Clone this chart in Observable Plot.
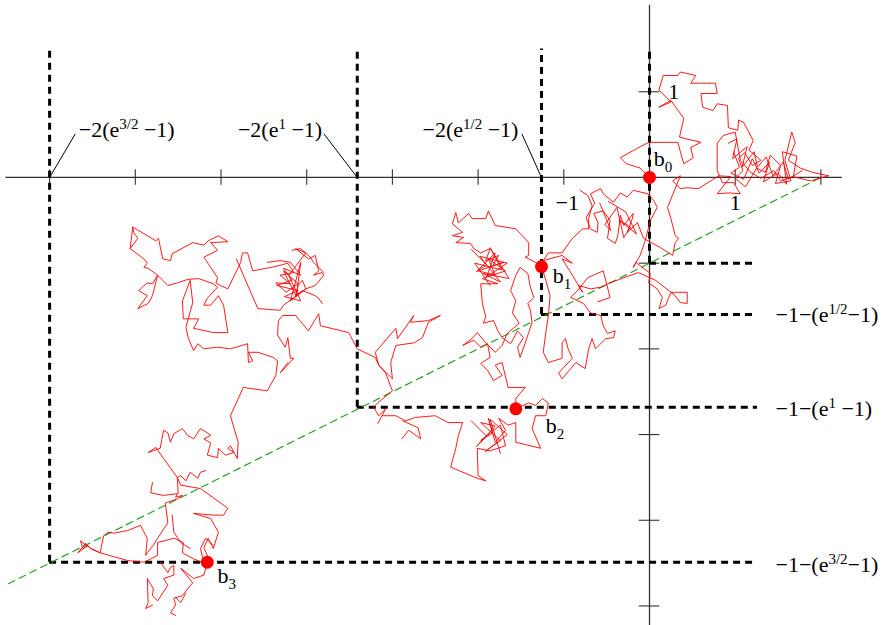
<!DOCTYPE html>
<html><head><meta charset="utf-8">
<script src="https://cdn.jsdelivr.net/npm/d3@7"></script>
<script src="https://cdn.jsdelivr.net/npm/@observablehq/plot@0.6"></script>
<style>html,body{margin:0;padding:0;background:#fff;} #chart svg{display:block;}</style>
</head><body><div id="chart"></div>
<script>
// ---------- data (plot units) ----------
const xDomain = [-7.573, 2.777];
const yDomain = [-5.228, 2.065];
const xAxisExtent = [-7.51, 2.25];
const yAxisExtent = [-5.23, 2.01];
const xTicks = [-7, -6, -5, -4, -3, -2, -1, 1, 2];
const yTicks = [1, -1, -2, -3, -4, -5];
const xTickHalf = 0.09, yTickHalf = 0.12;

// corners of the dashed staircase (t = 0, 1/2, 1, 3/2)
const cornerX = [0, -1.26, -3.41, -7.0];
const cornerY = [-1, -1.60, -2.68, -4.49];
const dashTop = 1.5, dashRight = 1.26;

// green line y = -1 + x/2
const greenX = [-7.48, 2];
const greenY = [-4.74, 0];

// marked points b0..b3
const bX = [0, -1.26, -1.56, -5.16];
const bY = [0, -1.04, -2.70, -4.49];
const bText = ["b_{0}", "b_{1}", "b_{2}", "b_{3}"];
const bLabelX = [0.05, -1.13, -1.21, -5.04];
const bLabelY = [0.13, -1.23, -2.98, -4.73];

// labels
const topText = ["−2(e^{3/2} −1)", "−2(e^{1} −1)", "−2(e^{1/2} −1)"];
const topLabelX = [-6.66, -3.82, -1.53];
const topAnchor = ["start", "end", "end"];
const topLabelY = 0.47;
const leaderFromX = [-7.0, -3.41, -1.26];
const leaderToX = [-6.70, -3.80, -1.49];
const leaderToY = 0.51;
const rightText = ["−1−(e^{1/2}−1)", "−1−(e^{1} −1)", "−1−(e^{3/2}−1)"];
const rightLabelX = 1.47;
const rightLabelY = [-1.69, -2.78, -4.60];
const tickText = ["1", "−1", "1"];
const tickLabelX = [0.22, -0.96, 1.0];
const tickLabelY = [0.91, -0.385, -0.385];
const tickAnchor = ["start", "middle", "middle"];

// Brownian path
const walkA = [[0,0],[-0.11,0.11],[-0.27,0.16],[-0.34,0.23],[-0.18,0.32],[-0.01,0.41],[0.33,0.41],[0.40,0.16],[0.51,0.23],[0.48,0.35],[0.60,0.41],[0.35,0.47],[0.40,0.69],[0.25,0.90],[0.11,0.82],[0.25,0.88],[0.11,1.02],[0.16,1.19],[0.33,1.19],[0.36,1.23],[0.54,1.19],[0.48,1.10],[0.77,1.10],[0.79,0.98],[0.60,0.98],[0.62,0.82],[0.74,0.78],[0.79,0.86],[0.91,0.84],[0.92,0.58],[1.03,0.55],[1.04,0.67],[1.10,0.64],[1.21,0.43],[1.16,0.32],[1.30,0.20],[1.20,0.14],[1.11,0.29],[1.04,0.22],[1.09,0.08],[1.00,-0.01],[1.12,-0.11],[1.25,0.11],[1.35,0.06],[1.41,0.26],[1.53,0.14],[1.47,-0.07],[1.65,-0.04],[1.58,0.20],[1.66,0.53],[1.70,0.41],[1.62,0.20],[1.76,0.11],[1.90,0.06],[2.09,0.02],[1.88,-0.04],[1.67,0.01],[1.53,-0.04],[1.45,0.08],[1.30,-0.01],[1.18,0.06],[1.06,0.20],[1.00,0.53],[0.86,0.49],[0.79,0.40],[0.79,0.08],[0.85,-0.06],[0.98,-0.06],[1.06,-0.19],[0.92,-0.18],[0.79,-0.19],[0.95,0.01],[0.81,0.02],[0.57,-0.13],[0.44,-0.12],[0.36,-0.13],[0.27,-0.04],[0.36,0.02],[0.21,-0.35],[0.25,-0.48],[0.30,-0.68],[0.34,-0.71],[0.30,-0.76],[0.27,-0.91],[0.13,-0.82],[-0.07,-0.71],[-0.14,-0.53]];
const walkA2 = [[0.98,0.30],[1.05,0.12],[0.95,0.05],[1.10,-0.02],[1.20,0.22],[1.28,0.05],[1.40,0.18],[1.33,-0.05],[1.50,0.05],[1.60,-0.08],[1.55,0.30],[1.72,0.25],[1.68,0.02]];
const walkA3 = [[0.92,0.40],[1.02,0.45],[0.97,0.22],[1.14,0.36],[1.08,0.12],[1.22,0.30],[1.26,0.12],[1.36,0.24],[1.44,0.02],[1.56,0.18],[1.62,-0.02],[1.78,0.08]];
const walkB = [[-0.14,-0.53],[-0.26,-0.64],[-0.20,-0.48],[-0.19,-0.42],[-0.30,-0.56],[-0.34,-0.44],[-0.37,-0.68],[-0.40,-0.77],[-0.49,-0.71],[-0.46,-0.50],[-0.54,-0.39],[-0.65,-0.42],[-0.60,-0.53],[-0.61,-0.64],[-0.69,-0.60],[-0.74,-0.47],[-0.64,-0.30],[-0.69,-0.19],[-0.57,-0.13],[-0.54,-0.19],[-0.42,-0.29],[-0.34,-0.18],[-0.26,-0.23],[-0.19,-0.15],[-0.02,-0.19],[0.05,-0.27],[0.09,-0.35],[0.01,-0.50],[-0.05,-0.74],[-0.11,-0.91],[-0.19,-1.05],[-0.16,-0.99],[-0.11,-1.03],[0.01,-1.12],[-0.01,-1.23],[0.09,-1.30],[0.15,-1.40],[0.11,-1.53],[0.19,-1.49],[0.25,-1.34],[0.30,-1.38],[0.36,-1.46],[0.44,-1.47],[0.44,-1.34],[0.25,-1.34],[0.07,-1.20],[-0.13,-1.11],[-0.30,-1.17],[-0.46,-1.23],[-0.57,-1.28],[-0.69,-1.30],[-0.83,-1.26],[-0.78,-1.34],[-0.90,-1.14],[-1.02,-0.95],[-0.90,-1.00],[-1.02,-0.91],[-1.24,-0.97],[-1.18,-0.88],[-1.02,-0.88],[-0.90,-0.71],[-0.78,-0.60],[-0.71,-0.60],[-0.71,-0.48],[-0.67,-0.33],[-0.72,-0.21],[-0.81,-0.15]];
const walkB2 = [[-0.58,-0.30],[-0.45,-0.62],[-0.52,-0.55],[-0.38,-0.35],[-0.30,-0.70],[-0.22,-0.58],[-0.35,-0.50],[-0.15,-0.66],[-0.28,-0.40],[-0.48,-0.28]];
const walkC = [[-1.26,-1.04],[-1.21,-1.20],[-1.16,-1.38],[-1.18,-1.61],[-1.21,-1.81],[-1.24,-2.04],[-1.18,-2.16],[-1.02,-2.11],[-1.02,-1.93],[-0.98,-1.88],[-0.95,-2.00],[-0.90,-2.11],[-1.06,-2.28],[-1.02,-2.35],[-0.86,-2.16],[-0.75,-2.23],[-0.71,-2.00],[-0.67,-1.88],[-0.63,-2.00],[-0.51,-1.88],[-0.42,-1.87],[-0.40,-1.79],[-0.49,-1.82],[-0.54,-1.73],[-0.57,-1.61],[-0.69,-1.58],[-0.77,-1.47],[-0.92,-1.40],[-0.84,-1.32],[-0.72,-1.17],[-0.54,-1.09],[-0.46,-1.40],[-0.60,-1.45]];
const walkD = [[-1.26,-1.04],[-1.33,-0.99],[-1.45,-0.93],[-1.41,-0.91],[-1.41,-0.76],[-1.56,-0.60],[-1.80,-0.56],[-1.88,-0.39],[-1.91,-0.48],[-2.07,-0.48],[-2.11,-0.42],[-2.23,-0.53],[-2.26,-0.41],[-2.30,-0.54],[-2.23,-0.60],[-2.18,-0.64],[-2.30,-0.68],[-2.17,-0.70],[-2.26,-0.76],[-2.09,-0.77],[-2.05,-0.83],[-1.97,-0.88],[-1.86,-0.83],[-1.91,-0.97],[-1.76,-0.91],[-1.83,-1.03],[-1.70,-0.99],[-2.00,-1.09],[-1.80,-1.14],[-1.88,-0.95],[-1.68,-1.09],[-1.95,-1.18],[-1.77,-1.24],[-1.97,-1.24],[-1.95,-1.47],[-1.91,-1.63],[-1.94,-1.70],[-1.82,-1.67],[-1.77,-1.79],[-1.72,-1.87],[-1.62,-1.94],[-1.54,-1.79],[-1.47,-1.87],[-1.54,-1.98],[-1.51,-2.10],[-1.45,-1.93],[-1.41,-1.81],[-1.37,-1.69],[-1.39,-1.55],[-1.42,-1.47],[-1.35,-1.40],[-1.39,-1.28],[-1.42,-1.12],[-1.51,-1.05],[-1.56,-1.14],[-1.62,-1.32],[-1.56,-1.44],[-1.60,-1.58],[-1.52,-1.70],[-1.66,-1.82],[-1.72,-1.96],[-1.80,-2.04],[-1.91,-1.93],[-2.01,-1.81],[-2.07,-1.88],[-2.18,-1.96],[-2.05,-1.90],[-1.97,-1.98],[-1.89,-1.94],[-1.86,-2.10],[-1.97,-2.17],[-1.89,-2.25],[-1.82,-2.37],[-1.72,-2.31],[-1.80,-2.19],[-1.72,-2.16],[-1.65,-2.45],[-1.45,-2.45],[-1.56,-2.58],[-1.56,-2.70]];
const walkD2 = [[-2.08,-0.84],[-1.90,-1.02],[-2.02,-1.10],[-1.80,-0.88],[-1.90,-1.16],[-1.66,-1.00],[-1.98,-0.92],[-1.74,-1.22],[-1.94,-1.12],[-1.64,-1.18],[-1.86,-0.82],[-1.72,-1.08],[-2.04,-1.00],[-1.86,-1.26]];
const walkE = [[-1.56,-2.70],[-1.41,-2.63],[-1.33,-2.66],[-1.25,-2.58],[-1.18,-2.63],[-1.21,-2.78],[-1.33,-2.78],[-1.37,-2.93],[-1.27,-3.16],[-1.56,-3.09],[-1.56,-2.86],[-1.65,-2.89],[-1.76,-2.81],[-1.68,-2.95],[-1.80,-3.09],[-1.88,-2.81],[-1.83,-2.98],[-1.97,-3.07],[-1.74,-2.89],[-1.68,-3.13],[-1.86,-3.19],[-2.01,-3.16],[-2.00,-3.48],[-1.91,-3.54],[-2.01,-3.51],[-2.32,-3.38],[-2.26,-3.16],[-2.23,-3.01],[-2.18,-2.86],[-2.35,-2.86],[-2.50,-2.78],[-2.73,-2.80],[-2.85,-2.84],[-2.96,-2.78],[-3.12,-2.78],[-3.17,-2.87]];
const walkE2 = [[-2.89,-3.05],[-2.81,-2.95],[-2.67,-3.05],[-2.70,-2.92],[-2.88,-2.84]];
const walkE3 = [[-2.08,-2.84],[-1.90,-3.02],[-2.02,-3.14],[-1.80,-2.90],[-1.97,-2.86],[-1.74,-3.07],[-1.92,-3.20],[-1.66,-3.00],[-1.86,-2.82],[-1.74,-3.22]];
const walkF = [[-4.22,-2.16],[-4.31,-2.28],[-4.15,-2.11],[-4.19,-2.11],[-4.22,-1.87],[-4.25,-1.98],[-4.34,-1.84],[-4.33,-1.67],[-4.28,-1.61],[-4.13,-1.61],[-3.98,-1.79],[-3.86,-1.59],[-3.84,-1.73],[-3.51,-1.81],[-3.41,-2.00],[-3.20,-2.10],[-3.16,-2.19],[-3.20,-2.04],[-2.96,-1.76],[-2.94,-1.88],[-2.75,-1.61],[-2.79,-1.69],[-2.58,-1.67],[-2.44,-1.61],[-2.58,-1.69],[-2.65,-1.87],[-2.75,-1.93],[-2.96,-1.96],[-3.02,-2.16],[-3.00,-2.35],[-3.16,-2.19],[-3.08,-2.28],[-3.00,-2.49],[-3.17,-2.63],[-3.22,-2.68],[-3.16,-2.78],[-3.08,-2.70],[-3.12,-2.78]];
const walkG1 = [[-6.03,-0.58],[-6.06,-0.83],[-5.97,-0.71],[-6.02,-0.64],[-6.03,-0.58],[-5.96,-0.62],[-5.76,-0.74],[-5.73,-0.71],[-5.68,-0.95],[-5.59,-0.97],[-5.57,-0.89],[-5.33,-0.76],[-5.20,-0.79],[-5.15,-0.74],[-5.03,-0.68],[-4.92,-0.75],[-5.12,-0.76],[-5.04,-0.85],[-5.20,-0.93],[-5.04,-1.17],[-5.06,-1.23],[-5.01,-1.26],[-4.92,-1.30],[-4.77,-0.99],[-4.75,-0.88],[-4.69,-0.88],[-4.63,-1.09],[-4.42,-1.05],[-4.33,-1.03],[-4.22,-1.00],[-4.15,-1.11],[-4.31,-1.14],[-4.19,-1.24],[-4.36,-1.23],[-4.24,-1.34],[-4.10,-1.24],[-4.27,-1.09],[-4.12,-1.39],[-4.07,-0.99],[-4.19,-1.44],[-4.01,-1.30],[-4.27,-1.49],[-4.31,-1.55],[-4.57,-1.53],[-4.74,-1.14],[-4.82,-0.95]];
const walkG2 = [[-6.06,-0.83],[-5.90,-0.95],[-5.86,-1.00],[-5.90,-1.05],[-5.85,-1.06],[-5.74,-1.14],[-5.80,-1.24],[-5.86,-1.23],[-5.94,-1.30],[-5.96,-1.32],[-5.86,-1.38],[-5.97,-1.53],[-5.85,-1.47],[-5.80,-1.38],[-5.74,-1.14],[-5.71,-1.17],[-5.62,-1.26],[-5.51,-1.23],[-5.39,-1.19],[-5.26,-1.18],[-5.09,-1.24],[-5.04,-1.28],[-5.16,-1.41],[-5.20,-1.49],[-5.12,-1.49],[-5.03,-1.38],[-4.97,-1.49],[-4.92,-1.81],[-5.09,-1.81],[-5.32,-1.76],[-5.26,-1.65],[-5.44,-1.65],[-5.45,-1.44],[-5.36,-1.20],[-5.33,-1.46],[-5.41,-1.75],[-5.38,-1.88],[-5.32,-2.02],[-5.27,-1.94],[-5.20,-2.00],[-5.04,-1.98],[-4.89,-2.00],[-4.69,-1.94],[-4.68,-2.16],[-4.63,-2.14],[-4.68,-2.04],[-4.57,-2.04],[-4.39,-2.10],[-4.34,-2.14],[-4.36,-2.31],[-4.46,-2.49],[-4.74,-2.45],[-4.89,-2.78],[-4.80,-3.09],[-4.81,-3.28],[-4.89,-3.13],[-4.92,-3.16],[-4.85,-3.21],[-4.95,-3.24],[-5.03,-3.16],[-5.04,-3.27],[-5.16,-3.24],[-5.12,-3.10],[-5.20,-3.05],[-5.12,-3.01],[-5.16,-2.98],[-5.24,-2.93],[-5.32,-3.05],[-5.39,-3.01],[-5.45,-2.93],[-5.55,-2.99],[-5.59,-3.09],[-5.62,-2.98],[-5.67,-2.95],[-5.71,-3.16],[-5.85,-3.21],[-5.76,-3.15],[-5.67,-3.28],[-5.51,-3.50],[-5.47,-3.48],[-5.41,-3.54],[-5.36,-3.44],[-5.27,-3.51],[-5.24,-3.44],[-5.18,-3.42]];
const walkG3 = [[-4.46,-0.99],[-4.31,-0.97],[-4.19,-0.99],[-4.07,-1.14],[-4.27,-1.06],[-4.17,-1.20],[-4.35,-1.26],[-4.10,-1.32],[-4.26,-1.39],[-4.07,-1.44],[-4.21,-1.14],[-4.01,-0.88],[-4.13,-0.83],[-3.98,-0.95],[-3.90,-0.91],[-3.86,-1.09],[-3.92,-1.14],[-3.82,-1.11],[-3.80,-1.14],[-3.90,-1.26],[-4.01,-1.30],[-4.05,-1.20],[-4.10,-1.26],[-4.13,-1.38],[-4.05,-1.32],[-3.90,-1.38],[-3.86,-1.41],[-3.82,-1.47]];
const walkG4 = [[-4.17,-0.85],[-4.07,-0.83],[-3.96,-0.93],[-3.92,-0.99],[-3.80,-1.11]];
const walkI2 = [[-5.51,-3.50],[-5.47,-3.59],[-5.24,-3.63],[-4.92,-3.86],[-4.97,-3.94],[-5.09,-3.94],[-5.32,-3.92],[-5.12,-3.98],[-5.03,-4.14],[-5.09,-4.33],[-5.15,-4.21],[-5.20,-4.32],[-5.15,-4.43],[-5.16,-4.49],[-5.20,-4.64],[-5.32,-4.68],[-5.47,-4.56],[-5.33,-4.73],[-5.39,-4.80],[-5.45,-4.88],[-5.55,-4.91],[-5.53,-4.99],[-5.59,-5.08],[-5.53,-5.11]];
const walkI3 = [[-5.51,-3.50],[-5.50,-3.68],[-5.53,-3.73],[-5.45,-3.71],[-5.51,-3.75],[-5.65,-3.80],[-5.62,-4.03],[-5.74,-4.21],[-5.79,-4.29],[-5.86,-4.38],[-5.88,-4.41],[-5.86,-4.21],[-5.94,-4.06],[-6.09,-4.12],[-6.25,-4.15],[-6.32,-4.14],[-6.37,-4.18],[-6.41,-4.38],[-6.52,-4.33],[-6.58,-4.27],[-6.67,-4.38],[-6.55,-4.29],[-6.61,-4.33],[-6.64,-4.24],[-6.52,-4.33],[-6.41,-4.38],[-6.09,-4.47],[-5.90,-4.49],[-5.74,-4.41],[-5.74,-4.26],[-5.55,-4.21],[-5.44,-4.26],[-5.45,-4.38],[-5.32,-4.45],[-5.20,-4.50],[-5.24,-4.33],[-5.18,-4.21],[-5.09,-4.29]];
const walkI4 = [[-5.80,-3.56],[-5.82,-3.68],[-5.67,-3.71],[-5.51,-3.69]];
const walkI5 = [[-5.57,-3.94],[-5.55,-4.14],[-5.47,-4.26],[-5.36,-4.33]];
const walkI6 = [[-5.71,-4.49],[-5.62,-4.61],[-5.59,-4.55],[-5.55,-4.53],[-5.55,-4.64],[-5.67,-4.68],[-5.62,-4.76],[-5.74,-4.94],[-5.80,-4.88],[-5.79,-4.80],[-5.86,-4.68],[-5.85,-4.96],[-5.88,-5.03],[-5.80,-4.99]];
const walkI7 = [[-5.41,-4.85],[-5.47,-4.96],[-5.53,-4.90]];

// ---------- build ----------
const pieces = [walkA, walkA2, walkA3, walkB, walkB2, walkC, walkD, walkD2, walkE, walkE2, walkE3, walkF, walkG1, walkG2, walkG3, walkG4, walkI2, walkI3, walkI4, walkI5, walkI6, walkI7];
const walk = pieces.flatMap((p, i) => p.map(([x, y]) => ({x, y, piece: i})));
const corners = cornerX.map((x, i) => ({x, y: cornerY[i]}));
const green = greenX.map((x, i) => ({x, y: greenY[i]}));
const bPts = bX.map((x, i) => ({x, y: bY[i]}));
const bLabs = bText.map((t, i) => ({t, x: bLabelX[i], y: bLabelY[i]}));
const topLabs = topText.map((t, i) => ({t, x: topLabelX[i], y: topLabelY, a: topAnchor[i]}));
const leaders = leaderFromX.map((x, i) => ({x1: x, y1: 0, x2: leaderToX[i], y2: leaderToY}));
const rightLabs = rightText.map((t, i) => ({t, x: rightLabelX, y: rightLabelY[i]}));
const tickLabs = tickText.map((t, i) => ({t, x: tickLabelX[i], y: tickLabelY[i], a: tickAnchor[i]}));

const FONT = "Liberation Serif, Times New Roman, serif";
const axisColor = "#333";
const textOpts = (anchor) => ({x: "x", y: "y", text: "t", textAnchor: anchor, lineAnchor: "bottom", fontSize: 22, fontFamily: FONT, fill: "#000"});

const svg = Plot.plot({
  width: 887, height: 625, margin: 0,
  x: {domain: xDomain, axis: null},
  y: {domain: yDomain, axis: null},
  style: {background: "#fff", overflow: "visible"},
  marks: [
    Plot.ruleY([0], {x1: xAxisExtent[0], x2: xAxisExtent[1], stroke: axisColor, strokeWidth: 1.3}),
    Plot.ruleX([0], {y1: yAxisExtent[0], y2: yAxisExtent[1], stroke: axisColor, strokeWidth: 1.3}),
    Plot.ruleX(xTicks, {x: d => d, y1: -xTickHalf, y2: xTickHalf, stroke: axisColor, strokeWidth: 1.1}),
    Plot.ruleY(yTicks, {y: d => d, x1: -yTickHalf, x2: yTickHalf, stroke: axisColor, strokeWidth: 1.1}),
    Plot.ruleX(corners, {x: "x", y1: "y", y2: dashTop, stroke: "#000", strokeWidth: 3, strokeDasharray: "7,5"}),
    Plot.ruleY(corners, {y: "y", x1: "x", x2: dashRight, stroke: "#000", strokeWidth: 3, strokeDasharray: "7,5"}),
    Plot.line(green, {x: "x", y: "y", stroke: "#2a9d2a", strokeWidth: 1.2, strokeDasharray: "7,5"}),
    Plot.line(walk, {x: "x", y: "y", z: "piece", stroke: "#ff0000", strokeWidth: 0.9, strokeLinejoin: "miter"}),
    Plot.dot(bPts, {x: "x", y: "y", r: 6.5, fill: "#ff0000", stroke: "none"}),
    Plot.link(leaders, {x1: "x1", y1: "y1", x2: "x2", y2: "y2", stroke: "#000", strokeWidth: 1}),
    Plot.text(topLabs.filter(d => d.a === "start"), textOpts("start")),
    Plot.text(topLabs.filter(d => d.a === "end"), textOpts("end")),
    Plot.text(rightLabs, textOpts("start")),
    Plot.text(bLabs, textOpts("start")),
    Plot.text(tickLabs.filter(d => d.a === "start"), textOpts("start")),
    Plot.text(tickLabs.filter(d => d.a === "middle"), textOpts("middle"))
  ]
});

// turn ^{..} and _{..} into super/subscript tspans
function richText(root) {
  d3.select(root).selectAll("text").each(function () {
    const s = this.textContent;
    if (!/[\^_]\{/.test(s)) return;
    const el = d3.select(this);
    el.text("");
    const parts = [];
    const re = /([\^_])\{([^}]*)\}/g;
    let last = 0, m;
    while ((m = re.exec(s))) {
      if (m.index > last) parts.push({t: s.slice(last, m.index), k: 0});
      parts.push({t: m[2], k: m[1] === "^" ? -1 : 1});
      last = re.lastIndex;
    }
    if (last < s.length) parts.push({t: s.slice(last), k: 0});
    let cur = 0;
    for (const p of parts) {
      const off = p.k < 0 ? -8 : p.k > 0 ? 6 : 0;
      const ts = el.append("tspan").text(p.t);
      if (off !== cur) ts.attr("dy", off - cur);
      if (p.k) ts.attr("font-size", 15);
      cur = off;
    }
  });
}
richText(svg);
document.getElementById("chart").append(svg);
</script>
</body></html>
